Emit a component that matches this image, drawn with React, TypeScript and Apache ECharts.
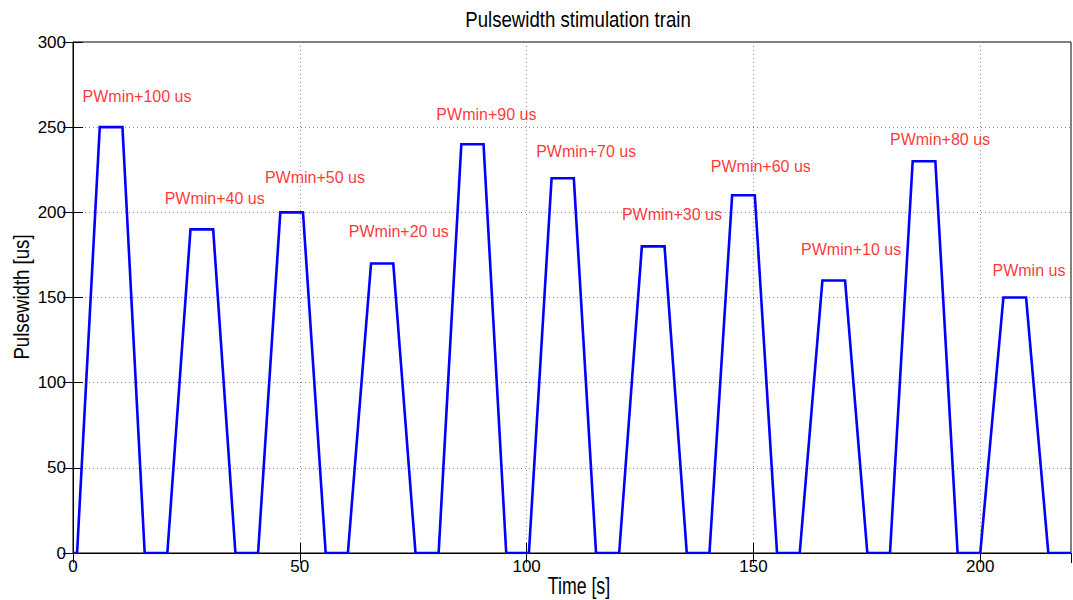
import React, { useEffect, useRef } from "react";
import * as echarts from "echarts";

// Pulse train: for each pulse, the time it leaves zero, reaches the plateau,
// leaves the plateau and returns to zero, plus the plateau height.
const riseStart = [0.9, 20.8, 40.8, 60.6, 80.6, 100.5, 120.4, 140.3, 160.2, 180.1, 200.0];
const plateauStart = [5.9, 25.9, 45.7, 65.7, 85.6, 105.5, 125.4, 145.3, 165.2, 185.1, 205.1];
const plateauEnd = [10.9, 30.9, 50.7, 70.6, 90.5, 110.4, 130.4, 150.3, 170.2, 190.1, 210.1];
const fallEnd = [15.8, 35.8, 55.7, 75.5, 95.5, 115.3, 135.3, 155.2, 175.1, 195.0, 215.0];
const pulseHeights = [250, 190, 200, 170, 240, 220, 180, 210, 160, 230, 150];

const timeStart = 0;
const timeEnd = 220;

// Annotation texts and their anchor points (left edge, vertical middle)
const annotationTexts = [
  "PWmin+100 us",
  "PWmin+40 us",
  "PWmin+50 us",
  "PWmin+20 us",
  "PWmin+90 us",
  "PWmin+70 us",
  "PWmin+30 us",
  "PWmin+60 us",
  "PWmin+10 us",
  "PWmin+80 us",
  "PWmin us",
];
const annotationX = [2.1, 20.2, 42.3, 60.8, 80.1, 102.1, 121.0, 140.6, 160.5, 180.1, 202.7];
const annotationY = [268, 208, 220.5, 188.5, 257.3, 235.8, 198.8, 227, 178, 242.7, 165.8];

const xTicks = { min: 0, max: 220, interval: 50 };
const yTicks = { min: 0, max: 300, interval: 50 };

const BASE_FONT = "'Liberation Sans', Arial, Helvetica, sans-serif";

function buildTrain(): [number, number][] {
  const pts: [number, number][] = [[timeStart, 0]];
  for (let i = 0; i < pulseHeights.length; i++) {
    pts.push([riseStart[i], 0]);
    pts.push([plateauStart[i], pulseHeights[i]]);
    pts.push([plateauEnd[i], pulseHeights[i]]);
    pts.push([fallEnd[i], 0]);
  }
  pts.push([timeEnd, 0]);
  return pts;
}

export default function App() {
  const ref = useRef<HTMLDivElement>(null);

  useEffect(() => {
    if (!ref.current) return;
    const chart = echarts.init(ref.current, undefined, { renderer: "svg" });

    const gridLine = { show: true, lineStyle: { color: "#8a8a8a", type: [1, 3], width: 1 } };
    const tick = { show: true, inside: true, length: 10, lineStyle: { color: "#000", width: 1 } };
    const axisLine = { show: true, lineStyle: { color: "#000", width: 1 } };

    const annotations = annotationTexts.map((t, i) => ({
      value: [annotationX[i], annotationY[i]],
      name: t,
    }));

    // Condensed heading style shared by the title and both axis names
    const headingStyle = (text: string) => ({
      text,
      fill: "#000",
      font: `23px ${BASE_FONT}`,
      textAlign: "center",
      textVerticalAlign: "middle",
    });

    chart.setOption({
      animation: false,
      backgroundColor: "#fff",
      grid: {
        left: 73,
        right: 2,
        top: 42,
        bottom: 47,
        show: true,
        borderColor: "#000",
        borderWidth: 1,
        backgroundColor: "transparent",
      },
      xAxis: [
        {
          type: "value",
          position: "bottom",
          min: xTicks.min,
          max: xTicks.max,
          interval: xTicks.interval,
          axisLine,
          axisTick: tick,
          axisLabel: {
            show: true,
            color: "#000",
            fontSize: 17,
            fontFamily: BASE_FONT,
            margin: 5,
            showMaxLabel: false,
          },
          splitLine: gridLine,
        },
        {
          type: "value",
          position: "top",
          min: xTicks.min,
          max: xTicks.max,
          interval: xTicks.interval,
          axisLine,
          axisTick: tick,
          axisLabel: { show: false },
          splitLine: { show: false },
        },
      ],
      yAxis: [
        {
          type: "value",
          position: "left",
          min: yTicks.min,
          max: yTicks.max,
          interval: yTicks.interval,
          axisLine,
          axisTick: tick,
          axisLabel: {
            show: true,
            color: "#000",
            fontSize: 17,
            fontFamily: BASE_FONT,
            margin: 7,
          },
          splitLine: gridLine,
        },
        {
          type: "value",
          position: "right",
          min: yTicks.min,
          max: yTicks.max,
          interval: yTicks.interval,
          axisLine,
          axisTick: tick,
          axisLabel: { show: false },
          splitLine: { show: false },
        },
      ],
      series: [
        {
          type: "line",
          data: buildTrain(),
          showSymbol: false,
          symbol: "none",
          lineStyle: { color: "#0000ff", width: 2.6, join: "miter" },
          z: 3,
        },
        {
          type: "scatter",
          data: annotations,
          symbolSize: 0,
          silent: true,
          label: {
            show: true,
            position: "right",
            distance: 0,
            color: "#ff0000",
            fontSize: 16,
            fontFamily: BASE_FONT,
            formatter: (p: any) => p.name,
          },
          z: 4,
        },
      ],
      graphic: [
        {
          type: "text",
          x: 578,
          y: 19,
          scaleX: 0.81,
          style: headingStyle("Pulsewidth stimulation train"),
        },
        {
          type: "text",
          x: 579,
          y: 586,
          scaleX: 0.77,
          style: headingStyle("Time [s]"),
        },
        {
          type: "text",
          x: 21,
          y: 297,
          rotation: Math.PI / 2,
          scaleX: 0.81,
          style: headingStyle("Pulsewidth [us]"),
        },
      ],
    });

    return () => chart.dispose();
  }, []);

  return (
    <div
      ref={ref}
      style={{ position: "fixed", left: 0, top: 0, width: 1073, height: 600 }}
    />
  );
}
